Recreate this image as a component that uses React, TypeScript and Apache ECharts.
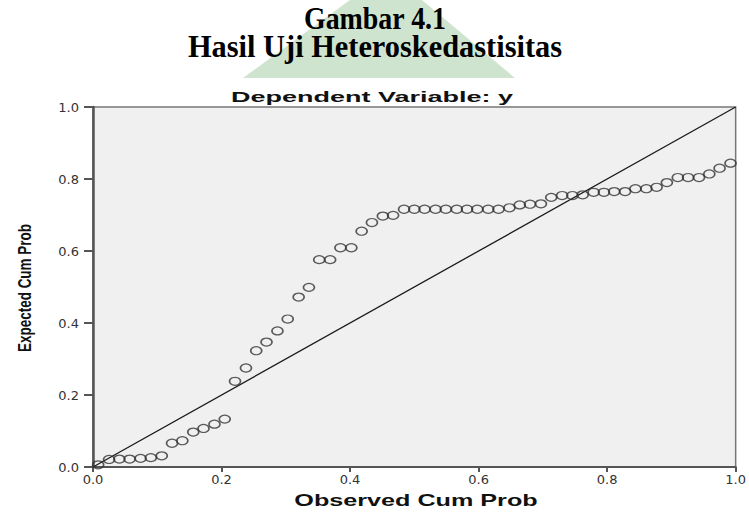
import React, { useEffect, useRef } from 'react';
import * as echarts from 'echarts';

const observedCumProb = [
  0.008, 0.025, 0.041, 0.057, 0.074, 0.090, 0.107, 0.123, 0.139, 0.156,
  0.172, 0.189, 0.205, 0.221, 0.238, 0.254, 0.270, 0.287, 0.303, 0.320,
  0.336, 0.352, 0.369, 0.385, 0.402, 0.418, 0.434, 0.451, 0.467, 0.484,
  0.500, 0.516, 0.533, 0.549, 0.566, 0.582, 0.598, 0.615, 0.631, 0.648,
  0.664, 0.680, 0.697, 0.713, 0.730, 0.746, 0.762, 0.779, 0.795, 0.811,
  0.828, 0.844, 0.861, 0.877, 0.893, 0.910, 0.926, 0.943, 0.959, 0.975,
  0.992,
];

const expectedCumProb = [
  0.006, 0.021, 0.022, 0.022, 0.024, 0.026, 0.031, 0.066, 0.073, 0.097,
  0.107, 0.119, 0.133, 0.238, 0.275, 0.323, 0.347, 0.378, 0.411, 0.472,
  0.499, 0.576, 0.576, 0.609, 0.609, 0.655, 0.679, 0.697, 0.699, 0.716,
  0.716, 0.716, 0.716, 0.716, 0.716, 0.716, 0.716, 0.716, 0.716, 0.720,
  0.728, 0.730, 0.731, 0.749, 0.754, 0.754, 0.756, 0.763, 0.763, 0.765,
  0.765, 0.773, 0.773, 0.777, 0.790, 0.804, 0.804, 0.804, 0.814, 0.830,
  0.844,
];

const diagonalX = [0, 1];
const diagonalY = [0, 1];

const figureTitle = 'Gambar 4.1';
const figureSubtitle = 'Hasil Uji Heteroskedastisitas';
const chartTitle = 'Dependent Variable: y';
const xAxisTitle = 'Observed Cum Prob';
const yAxisTitle = 'Expected Cum Prob';

export default function App() {
  const ref = useRef<HTMLDivElement>(null);

  useEffect(() => {
    if (!ref.current) return;
    const chart = echarts.init(ref.current, null, { renderer: 'svg' });
    const points = observedCumProb.map((x, i) => [x, expectedCumProb[i]]);
    const diag = diagonalX.map((x, i) => [x, diagonalY[i]]);
    const labelFmt = (v: number) => v.toFixed(1);

    chart.setOption({
      animation: false,
      backgroundColor: '#ffffff',
      grid: {
        left: 93,
        right: 12,
        top: 107,
        bottom: 45,
        show: true,
        backgroundColor: '#f0f0f0',
        borderColor: '#777',
        borderWidth: 1.5,
      },
      xAxis: {
        type: 'value',
        min: 0,
        max: 1,
        interval: 0.2,
        splitLine: { show: false },
        axisLine: { show: true, lineStyle: { color: '#555', width: 2 } },
        axisTick: { show: true, length: 5, lineStyle: { color: '#555', width: 2 } },
        axisLabel: {
          formatter: labelFmt,
          color: '#333',
          fontFamily: 'DejaVu Sans',
          fontSize: 13,
          margin: 6,
        },
      },
      yAxis: {
        type: 'value',
        min: 0,
        max: 1,
        interval: 0.2,
        splitLine: { show: false },
        axisLine: { show: true, lineStyle: { color: '#555', width: 2.5 } },
        axisTick: { show: true, length: 9, lineStyle: { color: '#555', width: 2 } },
        axisLabel: {
          formatter: labelFmt,
          color: '#333',
          fontFamily: 'DejaVu Sans',
          fontSize: 13,
          margin: 14,
        },
      },
      graphic: [
        {
          type: 'polygon',
          z: -10,
          shape: { points: [[243, 78], [350, 0], [422, 0], [515, 78]] },
          style: { fill: '#cfe4cf' },
        },
        {
          type: 'text',
          x: 375,
          y: 18,
          scaleX: 0.9,
          style: {
            text: figureTitle,
            fontFamily: 'Liberation Serif',
            fontWeight: 'bold',
            fontSize: 31,
            fill: '#000',
            align: 'center',
            verticalAlign: 'middle',
          },
        },
        {
          type: 'text',
          x: 375,
          y: 47,
          scaleX: 0.98,
          style: {
            text: figureSubtitle,
            fontFamily: 'Liberation Serif',
            fontWeight: 'bold',
            fontSize: 31,
            fill: '#000',
            align: 'center',
            verticalAlign: 'middle',
          },
        },
        {
          type: 'text',
          x: 372,
          y: 97,
          scaleX: 1.8,
          style: {
            text: chartTitle,
            fontFamily: 'Liberation Sans',
            fontWeight: 'bold',
            fontSize: 15,
            fill: '#111',
            align: 'center',
            verticalAlign: 'middle',
          },
        },
        {
          type: 'text',
          x: 416,
          y: 500,
          scaleX: 1.48,
          style: {
            text: xAxisTitle,
            fontFamily: 'Liberation Sans',
            fontWeight: 'bold',
            fontSize: 17,
            fill: '#111',
            align: 'center',
            verticalAlign: 'middle',
          },
        },
        {
          type: 'text',
          x: 25,
          y: 288,
          rotation: Math.PI / 2,
          scaleX: 0.75,
          style: {
            text: yAxisTitle,
            fontFamily: 'Liberation Sans',
            fontWeight: 'bold',
            fontSize: 18,
            fill: '#111',
            align: 'center',
            verticalAlign: 'middle',
          },
        },
      ],
      series: [
        {
          type: 'line',
          data: diag,
          showSymbol: false,
          symbol: 'none',
          lineStyle: { color: '#1a1a1a', width: 1.3 },
          z: 2,
        },
        {
          type: 'scatter',
          data: points,
          symbol: 'circle',
          symbolSize: [11, 8],
          itemStyle: {
            color: 'rgba(0,0,0,0)',
            borderColor: '#333',
            borderWidth: 1.4,
          },
          z: 3,
        },
      ],
    });

    return () => chart.dispose();
  }, []);

  return (
    <div
      ref={ref}
      style={{ position: 'fixed', left: 0, top: 0, width: 749, height: 512, background: '#fff' }}
    />
  );
}
